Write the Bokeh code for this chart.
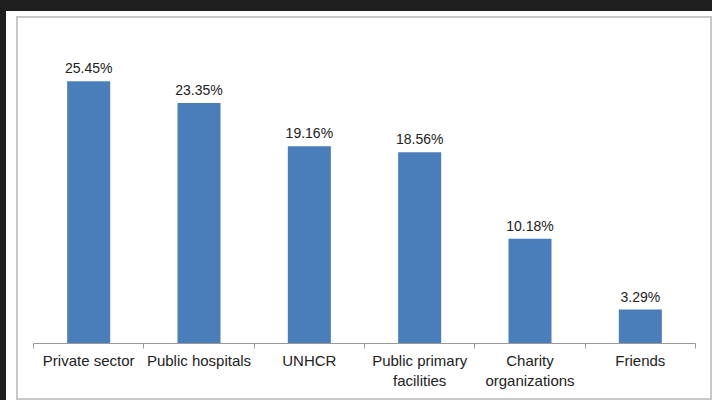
from bokeh.plotting import figure
from bokeh.layouts import column
from bokeh.models import Range1d, FixedTicker, ColumnDataSource
from bokeh.core.properties import value
from bokeh.embed import file_html
from bokeh.resources import INLINE

categories = ["Private sector", "Public hospitals", "UNHCR", "Public primary\nfacilities",
              "Charity\norganizations", "Friends"]
values = [25.45, 23.35, 19.16, 18.56, 10.18, 3.29]
value_labels = ["25.45%", "23.35%", "19.16%", "18.56%", "10.18%", "3.29%"]

FONT = "Liberation Sans"
centers = [i + 0.5 for i in range(len(categories))]
bounds = list(range(len(categories) + 1))

p = figure(width=692, height=380, output_backend="svg", toolbar_location=None,
           x_range=Range1d(0, len(categories)), y_range=Range1d(0, 30),
           min_border_left=15, min_border_right=15, min_border_top=16, min_border_bottom=55)
p.border_fill_color = "white"
p.background_fill_color = "white"
p.outline_line_color = None
p.grid.visible = False
p.yaxis.visible = False

src = ColumnDataSource(dict(x=centers, top=values, lab=value_labels))
p.vbar(x="x", top="top", bottom=0, width=0.39, source=src, fill_color="#4a7ebb", line_color=None)
p.text(x="x", y="top", text="lab", source=src, text_align="center", text_baseline="bottom",
       y_offset=-5, text_font=value(FONT), text_font_size="14px", text_color="#222222")

ax = p.xaxis[0]
ax.ticker = FixedTicker(ticks=centers, minor_ticks=bounds)
ax.major_label_overrides = {c: lab for c, lab in zip(centers, categories)}
ax.major_tick_line_color = None
ax.minor_tick_line_color = "#999999"
ax.minor_tick_in = 0
ax.minor_tick_out = 5
ax.axis_line_color = "#999999"
ax.major_label_text_font = FONT
ax.major_label_text_font_size = "15px"
ax.major_label_text_color = "#222222"
ax.major_label_standoff = 2

inner = column(p, styles={"border": "2px solid #c8c8c8"})
mid = column(inner, styles={"background-color": "white", "padding": "5px 0px 0px 10px"})
outer = column(mid, styles={"background-color": "#1e1e1e", "padding": "11px 0px 0px 6px"})

open("out.html", "w").write(file_html(outer, INLINE))
